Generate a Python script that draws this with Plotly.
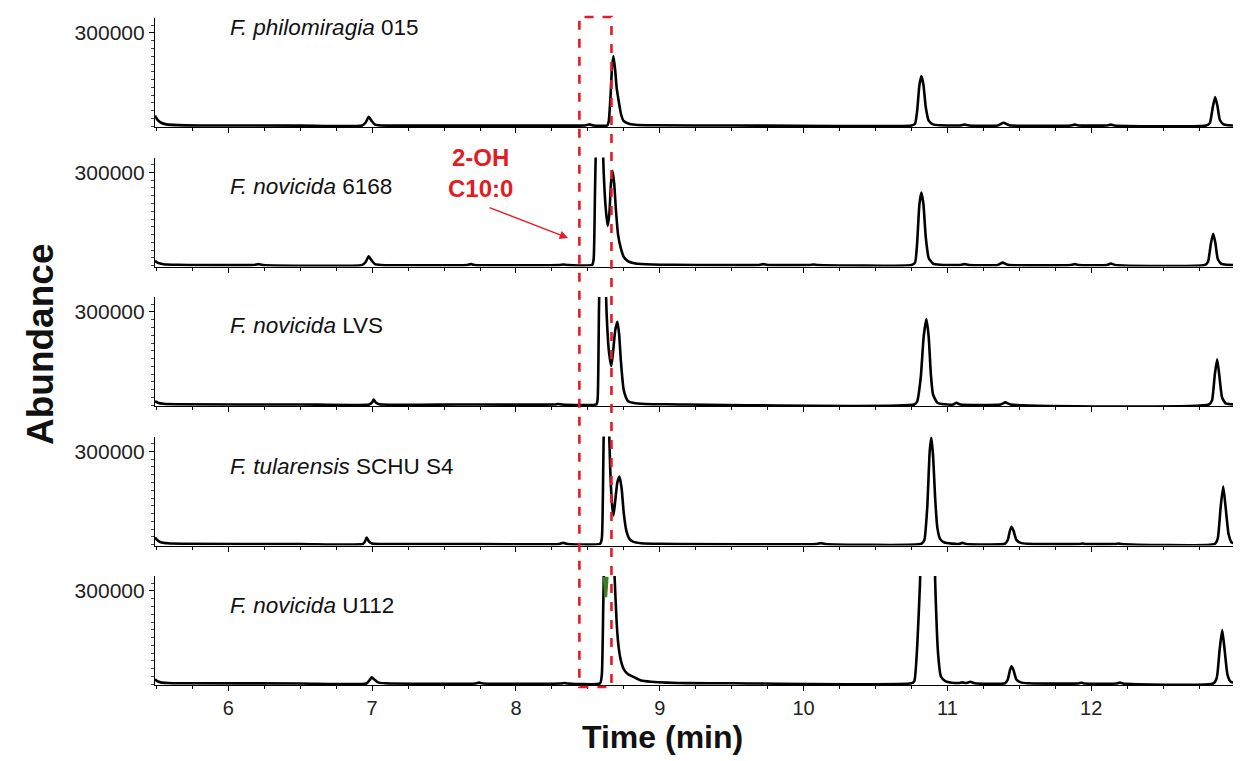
import plotly.graph_objects as go
from plotly.subplots import make_subplots

# ---------------- data ----------------
SPECIES = ["F. philomiragia", "F. novicida", "F. novicida", "F. tularensis", "F. novicida"]
STRAINS = ["015", "6168", "LVS", "SCHU S4", "U112"]

X_TICKS = [6, 7, 8, 9, 10, 11, 12]
Y_TICKS = [300000]
Y_TICK_TEXT = ["300000"]

# (time [min], abundance) pairs for each chromatogram
TRACE_1 = [(5.49, 34000), (5.505, 22000), (5.53, 12000), (5.57, 6000), (5.65, 3500), (5.8, 2500),
           (6.5, 2000), (6.93, 2500), (6.955, 12000), (6.976, 30000), (6.995, 18000), (7.02, 5000),
           (7.06, 2500), (7.6, 2000), (8.2, 2000), (8.48, 2500), (8.51, 6000), (8.54, 2500),
           (8.635, 2500), (8.645, 15000), (8.658, 100000), (8.668, 190000), (8.678, 226000),
           (8.69, 180000), (8.70, 125000), (8.713, 85000), (8.73, 40000), (8.748, 17000),
           (8.78, 9000), (8.83, 5000), (8.95, 3000), (9.5, 2500), (10.75, 2500), (10.775, 8000),
           (10.79, 50000), (10.805, 130000), (10.819, 161000), (10.833, 135000), (10.85, 60000),
           (10.87, 18000), (10.9, 6000), (10.95, 3000), (11.09, 2500), (11.119, 5000), (11.15, 2500),
           (11.35, 2500), (11.39, 11000), (11.43, 3000), (11.86, 2500), (11.886, 5000), (11.91, 2500),
           (12.11, 2500), (12.137, 5000), (12.16, 2500), (12.80, 2500), (12.825, 10000),
           (12.845, 60000), (12.862, 94000), (12.878, 65000), (12.895, 20000), (12.92, 6000),
           (12.95, 3000), (13.0, 2500)]

TRACE_2 = [(5.49, 16000), (5.51, 9000), (5.55, 5000), (5.65, 3000), (6.18, 2500), (6.209, 5000),
           (6.24, 2500), (6.93, 2500), (6.955, 12000), (6.976, 30000), (6.995, 18000), (7.02, 5000),
           (7.06, 2500), (7.66, 2500), (7.688, 5000), (7.71, 2500), (8.30, 2500), (8.33, 4000),
           (8.36, 2500), (8.53, 3000), (8.54, 20000), (8.55, 250000), (8.56, 450000), (8.585, 620000),
           (8.60, 450000), (8.61, 300000), (8.625, 180000), (8.638, 128000), (8.65, 170000),
           (8.66, 260000), (8.671, 305000), (8.683, 265000), (8.695, 180000), (8.71, 100000),
           (8.73, 55000), (8.75, 28000), (8.78, 14000), (8.83, 7000), (8.95, 4000), (9.1, 3000),
           (9.69, 2500), (9.72, 5000), (9.75, 2500), (10.04, 2500), (10.07, 4000), (10.10, 2500),
           (10.75, 2500), (10.775, 10000), (10.79, 75000), (10.805, 195000), (10.819, 235000),
           (10.833, 200000), (10.85, 90000), (10.87, 25000), (10.9, 7000), (10.95, 3000),
           (11.09, 2500), (11.119, 5000), (11.15, 2500), (11.35, 2500), (11.385, 10000),
           (11.42, 3000), (11.86, 2500), (11.886, 5000), (11.91, 2500), (12.11, 2500),
           (12.137, 7000), (12.165, 2500), (12.79, 2500), (12.812, 12000), (12.832, 70000),
           (12.848, 103000), (12.863, 75000), (12.88, 22000), (12.905, 6000), (12.94, 3000),
           (13.0, 2500)]

TRACE_3 = [(5.49, 13000), (5.51, 8000), (5.55, 4500), (5.65, 3000), (6.5, 2500), (6.98, 2500),
           (7.0, 9000), (7.011, 18000), (7.025, 9000), (7.05, 3000), (7.6, 2500), (8.27, 2500),
           (8.294, 4000), (8.32, 2500), (8.56, 3000), (8.568, 20000), (8.577, 300000),
           (8.585, 500000), (8.605, 620000), (8.62, 450000), (8.63, 300000), (8.645, 180000),
           (8.663, 126000), (8.675, 170000), (8.69, 240000), (8.705, 268000), (8.717, 230000),
           (8.73, 140000), (8.748, 52000), (8.765, 25000), (8.78, 13000), (8.82, 7000), (8.9, 4000),
           (9.05, 3000), (10.77, 2500), (10.79, 12000), (10.815, 90000), (10.835, 220000),
           (10.854, 277000), (10.87, 220000), (10.885, 100000), (10.9, 35000), (10.93, 8000),
           (10.98, 3000), (11.04, 2500), (11.063, 8000), (11.09, 2500), (11.37, 2500),
           (11.404, 9000), (11.44, 2500), (12.82, 2500), (12.84, 15000), (12.86, 100000),
           (12.876, 148000), (12.89, 100000), (12.91, 25000), (12.935, 6000), (12.97, 3000),
           (13.0, 2500)]

TRACE_4 = [(5.49, 23000), (5.505, 15000), (5.53, 8000), (5.58, 4500), (5.68, 3000), (6.5, 2500),
           (6.935, 2500), (6.95, 10000), (6.962, 23000), (6.978, 10000), (7.0, 4000), (7.05, 2500),
           (7.6, 2500), (8.30, 2500), (8.329, 6000), (8.36, 2500), (8.585, 3000), (8.597, 20000),
           (8.607, 250000), (8.615, 500000), (8.63, 620000), (8.643, 450000), (8.655, 250000),
           (8.668, 130000), (8.678, 94000), (8.69, 140000), (8.705, 200000), (8.72, 219000),
           (8.735, 180000), (8.75, 100000), (8.769, 42000), (8.79, 18000), (8.817, 9000),
           (8.87, 5000), (9.0, 3000), (10.09, 2500), (10.12, 5000), (10.15, 2500), (10.82, 3000),
           (10.84, 15000), (10.86, 120000), (10.877, 300000), (10.888, 345000), (10.90, 290000),
           (10.915, 150000), (10.93, 55000), (10.95, 18000), (10.98, 7000), (11.03, 3500),
           (11.08, 2500), (11.105, 6000), (11.13, 2500), (11.40, 3000), (11.42, 15000),
           (11.435, 45000), (11.446, 58000), (11.46, 45000), (11.48, 15000), (11.51, 6000),
           (11.56, 3000), (11.92, 2500), (11.94, 4000), (11.96, 2500), (12.17, 2500), (12.19, 4000),
           (12.21, 2500), (12.86, 2500), (12.88, 20000), (12.90, 120000), (12.918, 187000),
           (12.935, 120000), (12.955, 35000), (12.975, 8000), (13.0, 4000)]

TRACE_5 = [(5.49, 16000), (5.505, 10000), (5.53, 6000), (5.58, 4000), (5.68, 3000), (6.5, 2500),
           (6.96, 2500), (6.98, 12000), (6.997, 22000), (7.015, 15000), (7.04, 6000), (7.09, 3000),
           (7.72, 2500), (7.743, 5000), (7.77, 2500), (8.31, 2500), (8.336, 4000), (8.36, 2500),
           (8.585, 3000), (8.597, 30000), (8.607, 250000), (8.615, 450000), (8.63, 620000),
           (8.66, 620000), (8.675, 480000), (8.686, 345000), (8.70, 200000), (8.713, 123000),
           (8.73, 75000), (8.75, 48000), (8.78, 32000), (8.824, 22000), (8.87, 12000), (8.94, 8000),
           (9.05, 5000), (9.2, 3500), (9.5, 3000), (10.75, 3000), (10.77, 10000), (10.79, 120000),
           (10.81, 330000), (10.83, 620000), (10.9, 620000), (10.915, 330000), (10.935, 100000),
           (10.955, 25000), (10.985, 10000), (11.03, 5000), (11.08, 4000), (11.105, 6000),
           (11.13, 4000), (11.16, 8000), (11.19, 3000), (11.40, 3000), (11.42, 15000),
           (11.435, 45000), (11.446, 58000), (11.46, 45000), (11.48, 15000), (11.51, 6000),
           (11.56, 3000), (11.91, 2500), (11.93, 4500), (11.95, 2500), (12.18, 2500), (12.2, 5000),
           (12.22, 2500), (12.85, 2500), (12.873, 20000), (12.893, 110000), (12.911, 174000),
           (12.928, 110000), (12.948, 30000), (12.97, 8000), (13.0, 4000)]

TRACES = [TRACE_1, TRACE_2, TRACE_3, TRACE_4, TRACE_5]

# small green overlay mark in the U112 panel
GREEN_TIMES = [8.614, 8.624, 8.634]
GREEN_VALUES = [345000, 280000, 345000]

# highlighted retention window (2-OH C10:0)
BOX_TIMES = [8.441, 8.664]

X_RANGE = [5.49, 13.0]
Y_RANGE = [-2500, 348000]

# ---------------- figure ----------------
FONT = "Liberation Sans, Arial, sans-serif"
RED = "#e31c23"

fig = make_subplots(rows=5, cols=1, shared_xaxes=True, vertical_spacing=30.5 / 667)

for i, tr in enumerate(TRACES, start=1):
    xs = [p[0] for p in tr]
    ys = [p[1] for p in tr]
    fig.add_trace(go.Scatter(x=xs, y=ys, mode="lines",
                             line=dict(color="black", width=2.6, shape="spline", smoothing=0.5),
                             showlegend=False, hoverinfo="skip"), row=i, col=1)

fig.add_trace(go.Scatter(x=GREEN_TIMES, y=GREEN_VALUES, mode="lines",
                         line=dict(color="#3f7f1f", width=3), showlegend=False,
                         hoverinfo="skip"), row=5, col=1)

for i in range(1, 6):
    fig.update_xaxes(row=i, col=1, range=X_RANGE, showline=True, linecolor="black", linewidth=1.2,
                     ticks="outside", ticklen=5, tickcolor="black", tickwidth=1,
                     tickmode="array", tickvals=X_TICKS, ticktext=[str(v) for v in X_TICKS],
                     minor=dict(tickmode="linear", tick0=0, dtick=0.25, ticklen=3,
                                tickcolor="black", showgrid=False),
                     showgrid=False, zeroline=False,
                     tickfont=dict(family=FONT, size=20, color="#222"))
    fig.update_yaxes(row=i, col=1, range=Y_RANGE, showline=True, linecolor="black", linewidth=1.2,
                     ticks="outside", ticklen=5, tickcolor="black",
                     tickmode="array", tickvals=Y_TICKS, ticktext=Y_TICK_TEXT,
                     minor=dict(tickmode="linear", tick0=0, dtick=25000, ticklen=3,
                                tickcolor="#444", showgrid=False),
                     showgrid=False, zeroline=False,
                     tickfont=dict(family=FONT, size=21, color="#222"))

# species labels
label_y = [0.91, 0.735, 0.735, 0.725, 0.725]
for i in range(5):
    fig.add_annotation(xref=f"x{'' if i == 0 else i + 1} domain",
                       yref=f"y{'' if i == 0 else i + 1} domain",
                       x=0.0676, y=label_y[i], xanchor="left", yanchor="middle",
                       text=f"<i>{SPECIES[i]}</i> {STRAINS[i]}", showarrow=False,
                       font=dict(family=FONT, size=22.5, color="#111"))

# red dashed box
fig.add_shape(type="rect", xref="x", yref="paper", x0=BOX_TIMES[0], x1=BOX_TIMES[1],
              y0=-0.003, y1=1.0015, line=dict(color=RED, width=2.6, dash="dash"),
              fillcolor="rgba(0,0,0,0)", layer="above")

# red label and arrow
fig.add_annotation(xref="paper", yref="paper", x=0.301, y=0.768, text="<b>2-OH<br>C10:0</b>",
                   showarrow=False, xanchor="center", yanchor="middle", align="center",
                   font=dict(family=FONT, size=24, color=RED))
fig.add_annotation(xref="paper", yref="paper", x=(568 - 155) / 1080, y=(685 - 238) / 667,
                   ax=-80, ay=-31, axref="pixel", ayref="pixel", text="", showarrow=True,
                   arrowhead=2, arrowsize=1.2, arrowwidth=1.4, arrowcolor=RED)

# axis titles
fig.add_annotation(xref="paper", yref="paper", x=(40 - 155) / 1080, y=(685 - 345) / 667,
                   text="<b>Abundance</b>", textangle=-90, showarrow=False,
                   xanchor="center", yanchor="middle",
                   font=dict(family=FONT, size=37, color="#111"))
fig.add_annotation(xref="paper", yref="paper", x=(662 - 155) / 1080, y=(685 - 737) / 667,
                   text="<b>Time (min)</b>", showarrow=False, xanchor="center", yanchor="middle",
                   font=dict(family=FONT, size=32, color="#111"))

# the page body has an 8 px default margin, so the figure is offset by 8 px
fig.update_layout(width=1233, height=753, autosize=False,
                  margin=dict(l=147, r=6, t=10, b=76),
                  paper_bgcolor="white", plot_bgcolor="white",
                  font=dict(family=FONT))

fig.write_html("out.html")
